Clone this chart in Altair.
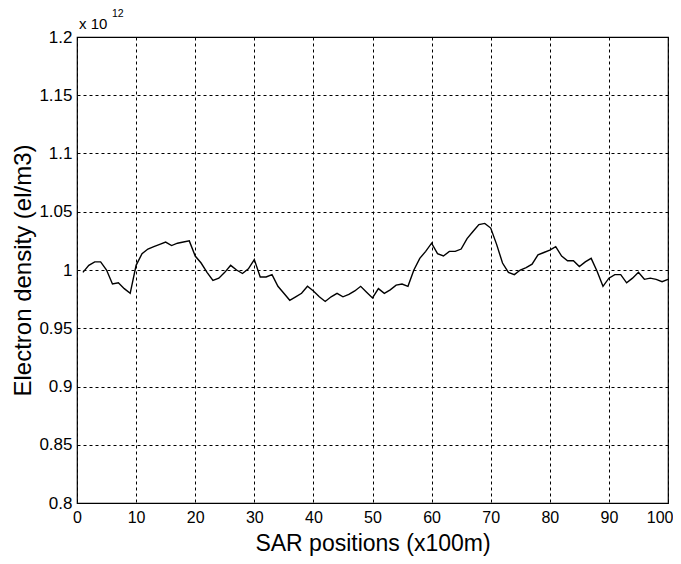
import altair as alt
import pandas as pd

positions = list(range(1, 101))
density = [
    0.998, 1.004, 1.007, 1.007, 1.000, 0.988, 0.989, 0.984, 0.980, 1.004,
    1.014, 1.018, 1.020, 1.022, 1.024, 1.021, 1.023, 1.024, 1.025, 1.012,
    1.006, 0.998, 0.991, 0.993, 0.998, 1.004, 1.000, 0.997, 1.001, 1.009,
    0.994, 0.994, 0.996, 0.986, 0.980, 0.974, 0.977, 0.980, 0.986, 0.982,
    0.977, 0.973, 0.977, 0.980, 0.977, 0.979, 0.982, 0.986, 0.981, 0.976,
    0.984, 0.980, 0.983, 0.987, 0.988, 0.986, 1.000, 1.010, 1.016, 1.023,
    1.014, 1.012, 1.016, 1.016, 1.018, 1.027, 1.033, 1.039, 1.040, 1.036,
    1.022, 1.006, 0.998, 0.996, 1.000, 1.002, 1.005, 1.013, 1.015, 1.017,
    1.020, 1.012, 1.008, 1.008, 1.003, 1.007, 1.010, 0.999, 0.986, 0.993,
    0.996, 0.996, 0.989, 0.993, 0.998, 0.992, 0.993, 0.992, 0.990, 0.992,
]
x_ticks = [0, 10, 20, 30, 40, 50, 60, 70, 80, 90, 100]
y_ticks = [0.8, 0.85, 0.9, 0.95, 1.0, 1.05, 1.1, 1.15, 1.2]

df = pd.DataFrame({"pos": positions, "dens": density})

FONT = "Liberation Sans, Arial, Helvetica"

line = alt.Chart(df).mark_line(color="black", strokeWidth=1.4).encode(
    x=alt.X(
        "pos:Q",
        scale=alt.Scale(domain=[0, 100], nice=False, zero=False),
        axis=alt.Axis(
            values=x_ticks,
            title="SAR positions (x100m)",
            titleFontSize=23,
            titleFontWeight="normal",
            titleFont=FONT,
            titleColor="black",
            titleY=47,
            titleBaseline="alphabetic",
            labelFontSize=16,
            labelFont=FONT,
            labelColor="black",
            labelPadding=6,
            labelAlign=alt.ExprRef(expr="datum.value == 100 ? 'right' : 'center'"),
            labelOffset=alt.ExprRef(expr="datum.value == 100 ? 5 : 0"),
            tickSize=0,
            domain=False,
            grid=True,
            gridColor="black",
            gridDash=[3, 3],
            gridWidth=1,
            gridOpacity=1,
        ),
    ),
    y=alt.Y(
        "dens:Q",
        scale=alt.Scale(domain=[0.8, 1.2], nice=False, zero=False),
        axis=alt.Axis(
            values=y_ticks,
            labelExpr="format(datum.value, '.2~f')",
            title="Electron density (el/m3)",
            titleFontSize=24,
            titleFontWeight="normal",
            titleFont=FONT,
            titleColor="black",
            titleX=-42,
            titleY=233,
            titleAngle=270,
            titleBaseline="bottom",
            labelFontSize=17,
            labelFont=FONT,
            labelColor="black",
            labelPadding=5,
            tickSize=0,
            domain=False,
            grid=True,
            gridColor="black",
            gridDash=[3, 3],
            gridWidth=1,
            gridOpacity=1,
        ),
    ),
)

ann_df = pd.DataFrame({"t": ["x 10"]})
ann = alt.Chart(ann_df).mark_text(
    align="left", baseline="alphabetic", fontSize=15, font=FONT, color="black"
).encode(x=alt.value(2), y=alt.value(-8), text="t:N")

sup_df = pd.DataFrame({"t": ["12"]})
sup = alt.Chart(sup_df).mark_text(
    align="left", baseline="alphabetic", fontSize=10.5, font=FONT, color="black"
).encode(x=alt.value(35), y=alt.value(-20), text="t:N")

chart = (
    alt.layer(line, ann, sup)
    .properties(
        width=591,
        height=466,
        autosize=alt.AutoSizeParams(type="none"),
        padding={"left": 69, "top": 29, "right": 5, "bottom": 53},
        background="white",
    )
    .configure_view(stroke="black", strokeWidth=1.2)
)

chart.save("out.html", embed_options={"renderer": "svg", "actions": False})
